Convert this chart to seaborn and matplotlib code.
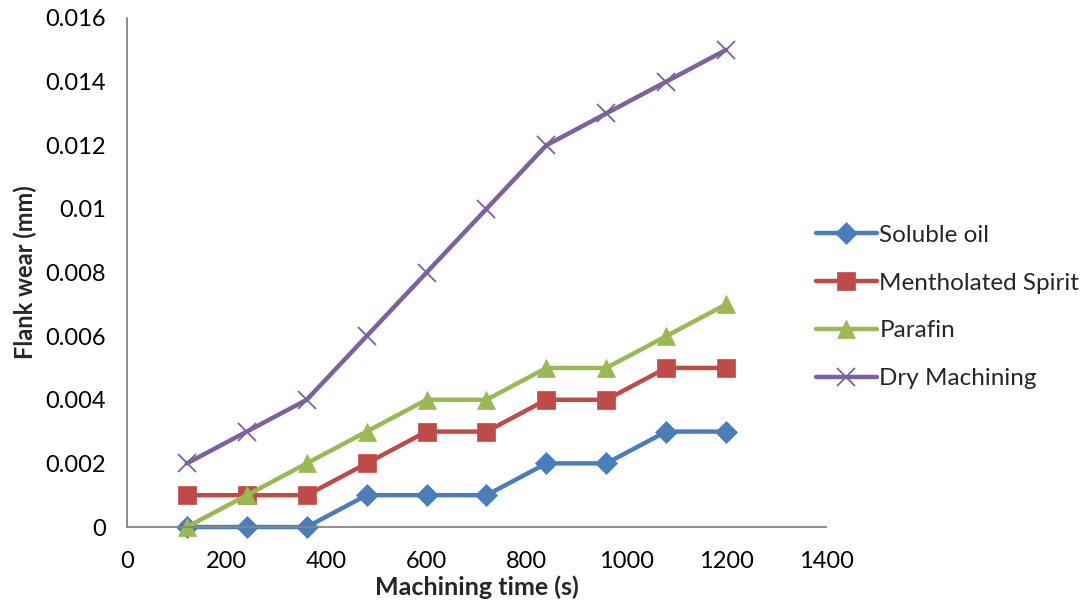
import numpy as np
import pandas as pd
import matplotlib
matplotlib.use("Agg")
import matplotlib.pyplot as plt
import seaborn as sns
from matplotlib.ticker import FuncFormatter, MultipleLocator

# data
machining_time = [120, 240, 360, 480, 600, 720, 840, 960, 1080, 1200]
soluble_oil = [0, 0, 0, 0.001, 0.001, 0.001, 0.002, 0.002, 0.003, 0.003]
mentholated_spirit = [0.001, 0.001, 0.001, 0.002, 0.003, 0.003, 0.004, 0.004, 0.005, 0.005]
parafin = [0, 0.001, 0.002, 0.003, 0.004, 0.004, 0.005, 0.005, 0.006, 0.007]
dry_machining = [0.002, 0.003, 0.004, 0.006, 0.008, 0.010, 0.012, 0.013, 0.014, 0.015]

series_names = ["Soluble oil", "Mentholated Spirit", "Parafin", "Dry Machining"]
series_values = [soluble_oil, mentholated_spirit, parafin, dry_machining]
colors = ["#4A7EBB", "#BE4B48", "#98B954", "#7D60A0"]
markers = ["D", "s", "^", "x"]
marker_sizes = [11, 12.5, 12.5, 13]

sns.set_theme(style="white")
plt.rcParams["font.family"] = ["Lato", "DejaVu Sans"]

fig = plt.figure(figsize=(10.91, 6.08), dpi=100)
ax = fig.add_axes([0.1164, 0.1332, 0.6407, 0.8372])

for name, vals, c, m, ms in zip(series_names, series_values, colors, markers, marker_sizes):
    df = pd.DataFrame({"time": machining_time, "wear": vals})
    sns.lineplot(data=df, x="time", y="wear", ax=ax, color=c, marker=m,
                 markersize=ms, markeredgecolor=c, markerfacecolor=c,
                 markeredgewidth=1.3 if m == "x" else 0.5,
                 linewidth=3.2, label=name, clip_on=False)

ax.set_xlim(0, 1400)
ax.set_ylim(0, 0.016)
ax.xaxis.set_major_locator(MultipleLocator(200))
ax.yaxis.set_major_locator(MultipleLocator(0.002))
ax.yaxis.set_major_formatter(FuncFormatter(lambda v, p: f"{round(v, 4):g}"))

for s in ["top", "right"]:
    ax.spines[s].set_visible(False)
for s in ["left", "bottom"]:
    ax.spines[s].set_color("#868686")
    ax.spines[s].set_linewidth(1.3)
ax.tick_params(axis="both", direction="out", length=6, width=1.3, color="#868686",
               labelsize=17, labelcolor="black")
ax.tick_params(axis="y", pad=9)
ax.tick_params(axis="x", pad=11)

ax.set_xlabel("Machining time (s)", fontsize=18, fontweight="bold", labelpad=3)
ax.set_ylabel("Flank wear (mm)", fontsize=17, fontweight="bold", labelpad=6)

ax.legend(loc="center left", bbox_to_anchor=(0.748, 0.495), bbox_transform=fig.transFigure,
          frameon=False, fontsize=17.5, handlelength=2.5, handletextpad=0.1,
          labelspacing=1.1, borderpad=0, borderaxespad=0)

fig.savefig("out.png", dpi=100)
